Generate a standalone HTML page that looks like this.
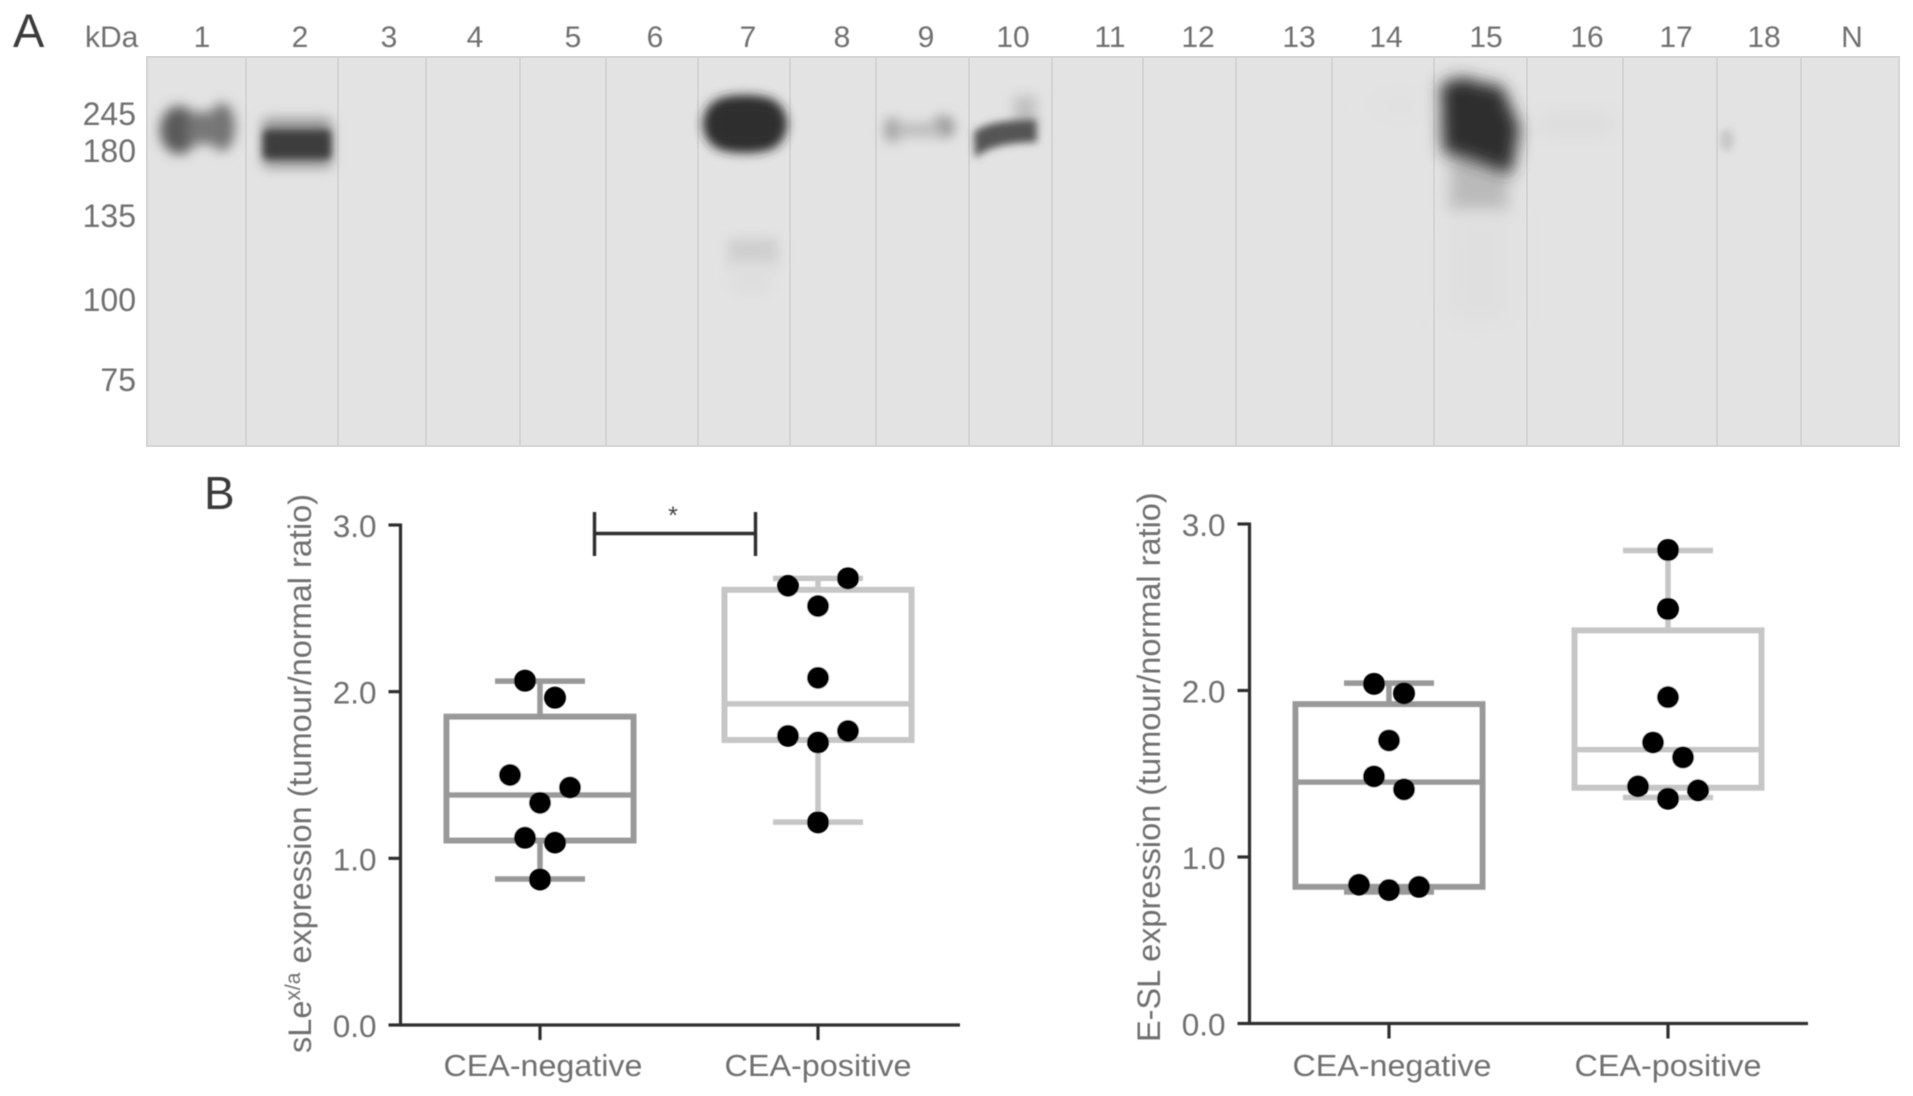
<!DOCTYPE html>
<html lang="en">
<head>
<meta charset="utf-8">
<title>CEA western blot and sialyl Lewis box plots</title>
<style>
  html, body { margin: 0; padding: 0; background: #fff; }
  body { width: 1913px; height: 1096px; overflow: hidden; }
  svg { display: block; font-family: "Liberation Sans", sans-serif; }
  .lbl { fill: #6f6f6f; }
</style>
</head>
<body>
<svg id="figure" width="1913" height="1096" viewBox="0 0 1913 1096" xmlns="http://www.w3.org/2000/svg">
  <defs>
    <filter id="soft" x="-5%" y="-5%" width="110%" height="110%"><feGaussianBlur stdDeviation="0.55"/></filter>
    <filter id="b4" x="-60%" y="-60%" width="220%" height="220%"><feGaussianBlur stdDeviation="4"/></filter>
    <filter id="b6" x="-60%" y="-60%" width="220%" height="220%"><feGaussianBlur stdDeviation="6"/></filter>
    <filter id="b8" x="-60%" y="-60%" width="220%" height="220%"><feGaussianBlur stdDeviation="8"/></filter>
    <filter id="b12" x="-60%" y="-60%" width="220%" height="220%"><feGaussianBlur stdDeviation="12"/></filter>
  </defs>

  <g id="panel-a">
    <text x="13" y="47" font-size="47" fill="#3a3a3a" filter="url(#soft)">A</text>
    <rect x="147" y="57" width="1752" height="389" fill="#e3e3e3" stroke="#d6d6d6" stroke-width="2"/>
    <g id="dividers" stroke="#d4d4d4" stroke-width="2">
      <line x1="246" y1="58" x2="246" y2="446"/><line x1="338" y1="58" x2="338" y2="446"/>
      <line x1="426" y1="58" x2="426" y2="446"/><line x1="520" y1="58" x2="520" y2="446"/>
      <line x1="606" y1="58" x2="606" y2="446"/><line x1="698" y1="58" x2="698" y2="446"/>
      <line x1="790" y1="58" x2="790" y2="446"/><line x1="876" y1="58" x2="876" y2="446"/>
      <line x1="969" y1="58" x2="969" y2="446"/><line x1="1052" y1="58" x2="1052" y2="446"/>
      <line x1="1143" y1="58" x2="1143" y2="446"/><line x1="1236" y1="58" x2="1236" y2="446"/>
      <line x1="1332" y1="58" x2="1332" y2="446"/><line x1="1434" y1="58" x2="1434" y2="446"/>
      <line x1="1527" y1="58" x2="1527" y2="446"/><line x1="1623" y1="58" x2="1623" y2="446"/>
      <line x1="1717" y1="58" x2="1717" y2="446"/><line x1="1801" y1="58" x2="1801" y2="446"/>
    </g>
    <g filter="url(#b6)">
      <ellipse cx="179" cy="130" rx="19" ry="24" fill="#5a5a5a"/>
      <ellipse cx="222" cy="127" rx="13" ry="24" fill="#727272"/>
      <rect x="188" y="112" width="32" height="32" fill="#777"/>
    </g>
    <g>
      <rect x="262" y="118" width="70" height="50" rx="6" fill="#999" filter="url(#b6)"/>
      <rect x="263" y="130" width="68" height="29" rx="4" fill="#3e3e3e" filter="url(#b4)"/>
    </g>
    <g>
      <ellipse cx="745" cy="124" rx="41" ry="27" fill="#2c2c2c" filter="url(#b6)"/>
      <rect x="709" y="100" width="72" height="48" rx="16" fill="#2e2e2e" filter="url(#b6)"/>
      <rect x="728" y="238" width="50" height="28" fill="#cfcfcf" filter="url(#b6)"/>
      <rect x="732" y="264" width="38" height="30" fill="#dedede" filter="url(#b8)"/>
    </g>
    <g filter="url(#b6)">
      <ellipse cx="893" cy="130" rx="8" ry="12" fill="#8f8f8f"/>
      <ellipse cx="943" cy="127" rx="11" ry="11" fill="#8c8c8c"/>
      <rect x="893" y="123" width="50" height="14" fill="#bcbcbc"/>
    </g>
    <g>
      <path d="M1014 96 L1036 96 L1037 132 L1014 132 Z" fill="#c0c0c0" filter="url(#b6)"/>
      <path d="M974 132 C985 124 1000 120 1036 120 L1037 142 C1010 143 990 145 975 158 Z" fill="#555" filter="url(#b4)"/>
    </g>
    <g>
      <rect x="1450" y="150" width="58" height="62" fill="#bababa" filter="url(#b8)"/>
      <rect x="1450" y="215" width="58" height="105" fill="#dfdfdf" filter="url(#b12)"/>
      <path d="M1440 86 Q1460 72 1478 82 L1502 86 L1520 128 L1511 174 L1466 158 L1443 152 Z" fill="#2f2f2f" filter="url(#b8)"/>
    </g>
    <g>
      <rect x="1540" y="110" width="72" height="28" fill="#dedede" filter="url(#b8)"/>
      <ellipse cx="1727" cy="140" rx="7" ry="11" fill="#c6c6c6" filter="url(#b4)"/>
      <ellipse cx="1400" cy="105" rx="30" ry="12" fill="#e0e0e0" filter="url(#b12)"/>
    </g>
    <g id="lane-labels" filter="url(#soft)"></g>
    <g id="mw-labels" filter="url(#soft)"></g>
    <text class="lbl" x="85" y="47" font-size="30" filter="url(#soft)">kDa</text>
  </g>

  <text x="204" y="509" font-size="46" fill="#3a3a3a" filter="url(#soft)">B</text>
  <g id="chart-left" filter="url(#soft)"></g>
  <g id="chart-right" filter="url(#soft)"></g>
</svg>

<script>
// Blot annotations
const laneNames = ["1","2","3","4","5","6","7","8","9","10","11","12","13","14","15","16","17","18","N"];
const weightLabels = ["245","180","135","100","75"];

// Shared chart axes
const categories = ["CEA-negative","CEA-positive"];
const tickLabels = ["0.0","1.0","2.0","3.0"];
const tickValues = [0,1,2,3];

// sLe x/a panel: summary = [min, q1, median, q3, max]
const sleNegativeValues = [2.066,1.964,1.50,1.425,1.333,1.124,1.095,0.873];
const sleNegativeSummary = [0.876,1.107,1.38,1.85,2.063];
const slePositiveValues = [2.635,2.68,2.514,2.083,1.735,1.764,1.696,1.216];
const slePositiveSummary = [1.217,1.71,1.927,2.611,2.68];

// E-SL panel: summary = [min, q1, median, q3, max]
const eslNegativeValues = [2.04,1.983,1.70,1.484,1.406,0.834,0.821,0.802];
const eslNegativeSummary = [0.79,0.821,1.45,1.918,2.044];
const eslPositiveValues = [2.844,2.49,1.96,1.688,1.598,1.425,1.401,1.35];
const eslPositiveSummary = [1.357,1.416,1.645,2.361,2.841];

const SVGNS = "http://www.w3.org/2000/svg";
function mk(tag, attrs, parent, text) {
  const el = document.createElementNS(SVGNS, tag);
  for (const k in attrs) el.setAttribute(k, attrs[k]);
  if (text !== undefined) el.textContent = text;
  parent.appendChild(el);
  return el;
}

// Lane and weight label layout
const laneCentre = [202,300,389,475,573,655,748,842,926,1013,1110,1198,1299,1386,1486,1587,1676,1764,1852];
const weightRow = [125,162,227,311,391];
const laneGroup = document.getElementById("lane-labels");
laneNames.forEach(function (name, i) {
  const t = mk("text", {x: laneCentre[i], y: 47, "font-size": 30, "text-anchor": "middle", class: "lbl"}, laneGroup, name);
  
  
});
const mwGroup = document.getElementById("mw-labels");
weightLabels.forEach(function (name, i) {
  const t = mk("text", {x: 136, y: weightRow[i], "font-size": 32, "text-anchor": "end", class: "lbl"}, mwGroup, name);
  
  
});

// Swarm offsets follow the data: neighbouring values close together spread sideways
function swarmSlots(values) {
  const slots = [];
  let start = 0;
  for (let i = 1; i <= values.length; i++) {
    if (i === values.length || Math.abs(values[i] - values[i - 1]) >= 0.17) {
      const n = i - start;
      const pattern = n === 1 ? [0] : n === 2 ? [-1, 1] : n === 3 ? [-2, 2, 0] : null;
      for (let j = 0; j < n; j++) {
        slots.push(pattern ? pattern[j] : (j - (n - 1) / 2) * 2);
      }
      start = i;
    }
  }
  return slots;
}

function drawPanel(cfg) {
  const root = document.getElementById(cfg.id);
  const yScale = function (v) { return cfg.y0 - v * cfg.unit; };
  const xScale = function (i) { return cfg.x0 + i * cfg.step; };

  const axisY = mk("line", {x1: cfg.axisX, y1: yScale(3) - 1.5, x2: cfg.axisX, y2: yScale(0) + 1.5, stroke: "#2f2f2f", "stroke-width": 3.2}, root);
  
  
  const axisX = mk("line", {x1: cfg.axisX, y1: yScale(0), x2: cfg.axisEnd, y2: yScale(0), stroke: "#2f2f2f", "stroke-width": 3.2}, root);
  
  

  tickValues.forEach(function (v, i) {
    const tick = mk("line", {x1: cfg.axisX - 12, y1: yScale(v), x2: cfg.axisX, y2: yScale(v), stroke: "#2f2f2f", "stroke-width": 3.2}, root);
    
    
    const lab = mk("text", {x: cfg.axisX - 24, y: yScale(v) + 12, "font-size": 31.5, "text-anchor": "end", class: "lbl"}, root, tickLabels[i]);
    
    
  });

  const title = mk("text", {transform: "translate(" + cfg.titleX + "," + cfg.titleY + ") rotate(-90)", "font-size": 32.5, class: "lbl"}, root);
  
  
  cfg.title.forEach(function (part) {
    mk("tspan", part.sup ? {"font-size": 21, dy: -11} : {dy: part.after ? 11 : 0}, title, part.text);
  });

  categories.forEach(function (name, i) {
    const cx = xScale(i);
    const colour = i === 0 ? "#999999" : "#c6c6c6";
    const s = cfg.summaries[i];

    const tick = mk("line", {x1: cx, y1: yScale(0), x2: cx, y2: yScale(0) + 15, stroke: "#2f2f2f", "stroke-width": 3.2}, root);
    
    
    const lab = mk("text", {x: cx + (i === 0 ? 3 : 0), y: 1076, "font-size": 31, "text-anchor": "middle", class: "lbl", textLength: i === 0 ? 199 : 187, lengthAdjust: "spacingAndGlyphs"}, root, name);
    
    

    const hi = mk("line", {x1: cx, y1: yScale(s[4]), x2: cx, y2: yScale(s[3]), stroke: colour, "stroke-width": 5.5}, root);
    
    
    const lo = mk("line", {x1: cx, y1: yScale(s[1]), x2: cx, y2: yScale(s[0]), stroke: colour, "stroke-width": 5.5}, root);
    
    
    const capHi = mk("line", {x1: cx - 45, y1: yScale(s[4]), x2: cx + 45, y2: yScale(s[4]), stroke: colour, "stroke-width": 5.5}, root);
    
    
    const capLo = mk("line", {x1: cx - 45, y1: yScale(s[0]), x2: cx + 45, y2: yScale(s[0]), stroke: colour, "stroke-width": 5.5}, root);
    
    
    const box = mk("rect", {x: cx - 93.5, y: yScale(s[3]), width: 187, height: yScale(s[1]) - yScale(s[3]), fill: "#fff", stroke: colour, "stroke-width": 6}, root);
    
    
    const med = mk("line", {x1: cx - 93.5, y1: yScale(s[2]), x2: cx + 93.5, y2: yScale(s[2]), stroke: colour, "stroke-width": 5.5}, root);
    
    

    const values = cfg.values[i];
    const slots = swarmSlots(values);
    values.forEach(function (v, k) {
      const dot = mk("circle", {cx: cx + slots[k] * 15, cy: yScale(v), r: 11, fill: "#000"}, root);
      
      
    });
  });
}

drawPanel({
  id: "chart-left", x0: 540, step: 278, y0: 1025, unit: 166.67, axisX: 400.5, axisEnd: 960,
  titleX: 311, titleY: 1053,
  title: [{text: "sLe"}, {text: "x/a", sup: true}, {text: " expression (tumour/normal ratio)", after: true}],
  summaries: [sleNegativeSummary, slePositiveSummary],
  values: [sleNegativeValues, slePositiveValues]
});
drawPanel({
  id: "chart-right", x0: 1389, step: 279, y0: 1023.5, unit: 166.5, axisX: 1249.5, axisEnd: 1808,
  titleX: 1160, titleY: 1042,
  title: [{text: "E-SL expression (tumour/normal ratio)"}],
  summaries: [eslNegativeSummary, eslPositiveSummary],
  values: [eslNegativeValues, eslPositiveValues]
});

// Significance bracket
const leftRoot = document.getElementById("chart-left");
const bracketBar = mk("line", {x1: 594.5, y1: 533.5, x2: 755.5, y2: 533.5, stroke: "#2f2f2f", "stroke-width": 3.4}, leftRoot);


const bracketL = mk("line", {x1: 594.5, y1: 512, x2: 594.5, y2: 556, stroke: "#2f2f2f", "stroke-width": 3.4}, leftRoot);


const bracketR = mk("line", {x1: 755.5, y1: 512, x2: 755.5, y2: 556, stroke: "#2f2f2f", "stroke-width": 3.4}, leftRoot);


const star = mk("text", {x: 673, y: 524, "font-size": 25, "text-anchor": "middle", fill: "#444"}, leftRoot, "*");


</script>
</body>
</html>
